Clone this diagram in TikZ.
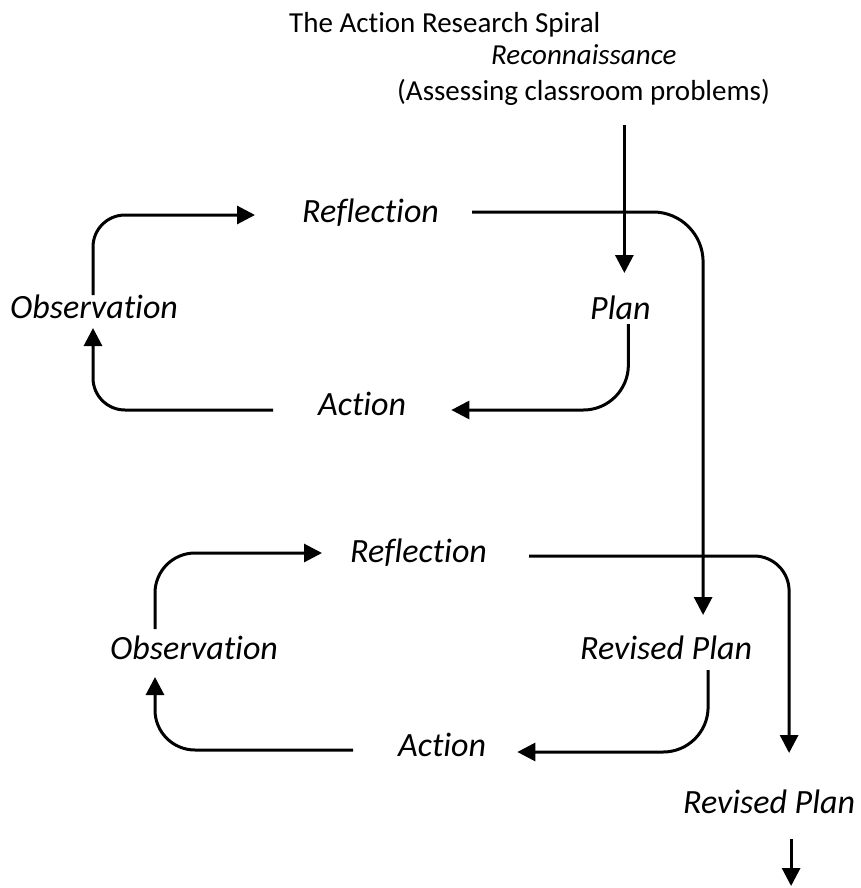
\documentclass[tikz,border=0pt]{standalone}
\usepackage{fontspec}
\setmainfont{Carlito}[Ligatures=NoCommon]
\usetikzlibrary{arrows.meta}

\begin{document}
\begin{tikzpicture}[x=1pt,y=-1pt,
        lbl/.style={anchor=base west,inner sep=0pt,font=\fontsize{34}{40}\selectfont\itshape},
        headtxt/.style={anchor=base west,inner sep=0pt,font=\fontsize{29}{35}\selectfont},
        arr/.style={line width=3pt,-{Triangle[length=18pt,width=18pt]}},
        turn/.style={arr,rounded corners=#1}]
    \useasboundingbox (0,0) rectangle (860,888);
    % heading
    \node[headtxt] (title) at (289,33) {The Action Research Spiral};
    \node[headtxt] (recon) at (491,65) {\itshape Reconnaissance};
    \node[headtxt] (assess) at (397,101) {(Assessing classroom problems)};
    % first cycle
    \node[lbl] (refl1) at (302,222) {Reflection};
    \node[lbl] (plan1) at (590,319) {Plan};
    \node[lbl] (obs1) at (10,318) {Observation};
    \node[lbl] (act1) at (318,415) {Action};
    % second cycle
    \node[lbl] (refl2) at (350,562) {Reflection};
    \node[lbl] (obs2) at (110,659) {Observation};
    \node[lbl] (rev1) at (580,659) {Revised Plan};
    \node[lbl] (act2) at (398,756) {Action};
    \node[lbl] (rev2) at (683,813) {Revised Plan};

    \draw[arr] ([shift={(4,24)}]assess.base -| plan1.base) -- ([shift={(4,-46)}]plan1.base);
    \draw[turn=45pt] ([shift={(8,5)}]plan1.base) |- ([shift={(45,-5)}]act1.base east);
    \draw[turn=32pt] ([shift={(-45,-5)}]act1.base west) -| ([shift={(83,10)}]obs1.base west);
    \draw[turn=32pt] ([shift={(83,-23)}]obs1.base west) |- ([shift={(-47,-7)}]refl1.base west);
    \draw[turn=50pt] ([shift={(33,-10)}]refl1.base east) -| ([shift={(37,-44)}]rev1.base);
    \draw[turn=45pt] ([shift={(42,11)}]rev1.base) |- ([shift={(31,-4)}]act2.base east);
    \draw[turn=40pt] ([shift={(-45,-6)}]act2.base west) -| ([shift={(45,18)}]obs2.base west);
    \draw[turn=40pt] ([shift={(45,-30)}]obs2.base west) |- ([shift={(-28,-9)}]refl2.base west);
    \draw[turn=35pt] ([shift={(42,-6)}]refl2.base east) -| ([shift={(20,-60)}]rev2.base);
    \draw[arr] ([shift={(22,26)}]rev2.base) -- ++(0,47);
\end{tikzpicture}
\end{document}
